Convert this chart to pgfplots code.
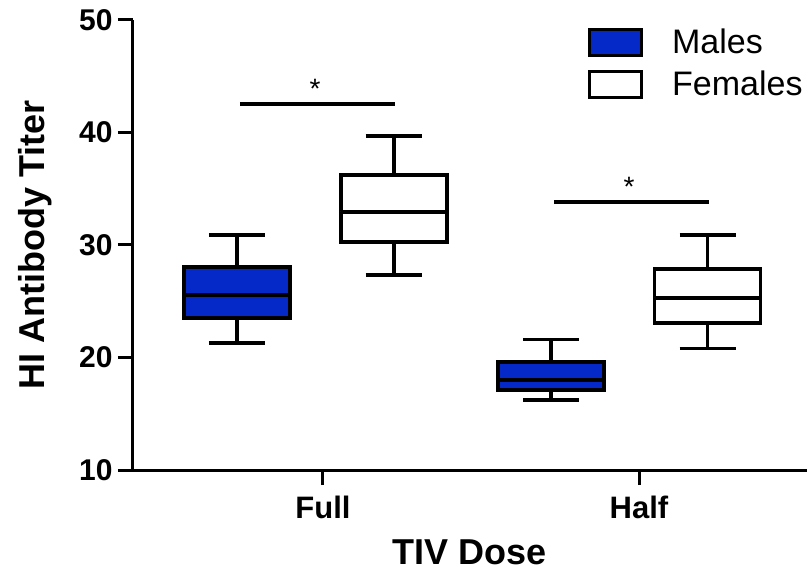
\documentclass[border=0pt]{standalone}
\usepackage{pgfplots}
\pgfplotsset{compat=1.18}
\usepgfplotslibrary{statistics}
\usepackage{fontspec}
\setmainfont{Liberation Sans}
\definecolor{mblue}{RGB}{5,40,200}

\begin{document}
\begin{tikzpicture}
\useasboundingbox (-133pt,-103pt) rectangle (674pt,470pt);
\begin{axis}[
  scale only axis, width=674pt, height=450pt,
  xmin=133, xmax=807, ymin=10, ymax=50,
  axis x line=bottom, axis y line=left,
  axis line style={-, line width=3pt},
  ytick={10,20,30,40,50},
  xtick={323,639}, xticklabels={Full,Half},
  tick style={line width=3pt, black},
  major tick length=15pt, tick align=outside,
  minor tick num=0,
  ticklabel style={font=\fontsize{30}{30}\selectfont\bfseries},
  xticklabel style={font=\fontsize{31}{31}\selectfont\bfseries, yshift=-8pt},
  yticklabel style={xshift=-2pt},
  /pgf/number format/assume math mode=true,
  xlabel={TIV Dose}, ylabel={HI Antibody Titer},
  label style={font=\fontsize{36}{36}\selectfont\bfseries},
  xlabel style={at={(axis description cs:0.5,-0.211)}, anchor=base},
  ylabel style={at={(axis description cs:-0.1306,0.5)}, anchor=base},
  legend cell align=left,
  legend style={draw=none, fill=none, at={(axis description cs:0.675,0.985)}, anchor=north west,
    font=\fontsize{34}{34}\selectfont, row sep=12pt, inner sep=0pt},
  boxplot/draw direction=y,
]
\addlegendimage{legend image code/.code={\draw[fill=mblue,draw=black,line width=3pt] (0pt,-13pt) rectangle (52pt,13pt);}}
\addlegendentry{\hspace{27pt}Males}
\addlegendimage{legend image code/.code={\draw[fill=white,draw=black,line width=3pt] (0pt,-13pt) rectangle (52pt,13pt);}}
\addlegendentry{\hspace{27pt}Females}

% Full dose
\addplot+[boxplot prepared={draw position=237, lower whisker=21.3, lower quartile=23.5, median=25.56, upper quartile=28.07, upper whisker=30.9, box extend=106, whisker extend=56}, solid, fill=mblue, draw=black, line width=3.8pt, mark=none] coordinates {};
\addplot+[boxplot prepared={draw position=393.7, lower whisker=27.3, lower quartile=30.3, median=32.96, upper quartile=36.2, upper whisker=39.7, box extend=106, whisker extend=56}, solid, fill=white, draw=black, line width=3.8pt, mark=none] coordinates {};
% Half dose
\addplot+[boxplot prepared={draw position=551, lower whisker=16.2, lower quartile=17.1, median=18.0, upper quartile=19.6, upper whisker=21.6, box extend=106, whisker extend=56}, solid, fill=mblue, draw=black, line width=3.8pt, mark=none] coordinates {};
\addplot+[boxplot prepared={draw position=707.5, lower whisker=20.8, lower quartile=23.1, median=25.3, upper quartile=27.9, upper whisker=30.9, box extend=106, whisker extend=56}, solid, fill=white, draw=black, line width=3.8pt, mark=none] coordinates {};

% significance bars
\addplot[black, line width=3.8pt, no marks] coordinates {(240,42.5) (395,42.5)};
\addplot[black, line width=3.8pt, no marks] coordinates {(554,33.8) (709,33.8)};
\node[anchor=north, inner sep=0pt, font=\fontsize{28}{28}\selectfont] at (axis cs:315,44.75) {*};
\node[anchor=north, inner sep=0pt, font=\fontsize{28}{28}\selectfont] at (axis cs:629,36.0) {*};
\end{axis}
\end{tikzpicture}
\end{document}
